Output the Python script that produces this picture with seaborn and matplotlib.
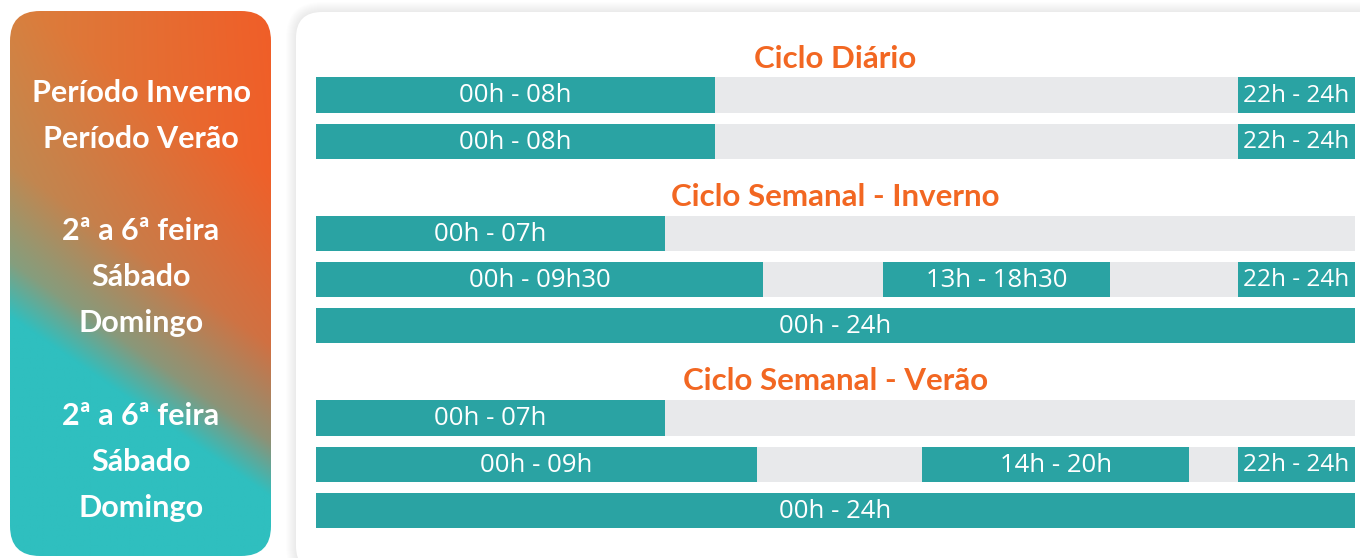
import numpy as np
import pandas as pd
import matplotlib
matplotlib.use("Agg")
import matplotlib.pyplot as plt
import seaborn as sns
from matplotlib.patches import FancyBboxPatch
from matplotlib.colors import to_rgb
from matplotlib.transforms import blended_transform_factory

# ---------------- data ----------------
section_titles = ["Ciclo Diário", "Ciclo Semanal - Inverno", "Ciclo Semanal - Verão"]
title_pos = [-0.78, 2.22, 6.2]
row_labels = ["Período Inverno", "Período Verão",
              "2ª a 6ª feira", "Sábado", "Domingo",
              "2ª a 6ª feira", "Sábado", "Domingo"]
row_pos = [0, 1, 3, 4, 5, 7, 8, 9]
row_full = [24, 24, 24, 24, 24, 24, 24, 24]

# teal segments (row index, start / end on the drawn 0-24 axis, label)
seg_row = [0, 0, 1, 1, 2, 3, 3, 3, 4, 5, 6, 6, 6, 7]
seg_start = [0, 21.3, 0, 21.3, 0, 0, 13.1, 21.3, 0, 0, 0, 14.0, 21.3, 0]
seg_end = [9.22, 24, 9.22, 24, 8.06, 10.33, 18.34, 24, 24, 8.06, 10.19, 20.17, 24, 24]
seg_text = ["00h - 08h", "22h - 24h", "00h - 08h", "22h - 24h",
            "00h - 07h", "00h - 09h30", "13h - 18h30", "22h - 24h", "00h - 24h",
            "00h - 07h", "00h - 09h", "14h - 20h", "22h - 24h", "00h - 24h"]

TEAL = "#2AA3A3"
GRAY = "#E8E9EB"
ORANGE = "#F26722"

sns.set_theme(style="white")
W, H = 1360, 558
fig = plt.figure(figsize=(W / 100, H / 100), dpi=100)
fig.patch.set_facecolor("white")

# background axes in pixel coords
bg = fig.add_axes([0, 0, 1, 1])
bg.set_xlim(0, W)
bg.set_ylim(H, 0)
bg.axis("off")

# right white card with soft shadow
for i in range(10, 0, -1):
    sh = FancyBboxPatch((296 - i, 12 - i), 1100 + 2 * i, 560 + 2 * i,
                        boxstyle=f"round,pad=0,rounding_size={26 + i}",
                        facecolor="#000000", edgecolor="none", alpha=0.006, zorder=1)
    bg.add_patch(sh)
card = FancyBboxPatch((296, 12), 1100, 560, boxstyle="round,pad=0,rounding_size=26",
                      facecolor="white", edgecolor="none", zorder=2)
bg.add_patch(card)

# left gradient panel
px0, py0, pw, ph = 10, 11, 261, 545
panel = FancyBboxPatch((px0, py0), pw, ph, boxstyle="round,pad=0,rounding_size=30",
                       facecolor="none", edgecolor="none", zorder=3)
bg.add_patch(panel)
xs = np.linspace(px0, px0 + pw, 300)
ys = np.linspace(py0, py0 + ph, 600)
XX, YY = np.meshgrid(xs, ys)
d = (180 * (XX - 10) - 261 * (YY - 262)) / 317.0
w = np.interp(d, [-45, 0, 80, 220], [0, 0.5, 0.85, 1.0])[..., None]
u = ((XX - px0) / pw)[..., None]
v = ((YY - py0) / ph)[..., None]
o_left = np.array(to_rgb("#D9803E"))
o_right = np.array(to_rgb("#F05E28"))
o_col = o_left * (1 - u) + o_right * u
o_col = o_col * (1 - 0.3 * v) + np.array(to_rgb("#E2743A")) * 0.3 * v
teal_c = np.array(to_rgb("#2FBFBF"))
img = teal_c * (1 - w) + o_col * w
im = bg.imshow(np.clip(img, 0, 1), extent=[px0, px0 + pw, py0 + ph, py0],
               aspect="auto", zorder=3, interpolation="bilinear")
im.set_clip_path(panel)

# bar axes
top_px, bot_px = 30, 550
r_top = (top_px - 95) / 46.14
r_bot = (bot_px - 95) / 46.14
ax = fig.add_axes([316 / W, 1 - bot_px / H, 1039 / W, (bot_px - top_px) / H])
ax.patch.set_alpha(0)

df = pd.DataFrame({"pos": row_pos, "full": row_full})
sns.barplot(data=df, x="full", y="pos", orient="h", native_scale=True, color=GRAY,
            saturation=1, width=0.76, linewidth=0, ax=ax, errorbar=None)

seg_y = [row_pos[r] for r in seg_row]
widths = np.subtract(seg_end, seg_start)
ax.barh(seg_y, widths, left=seg_start, height=0.76, color=TEAL, linewidth=0)

for y, s, e, txt in zip(seg_y, seg_start, seg_end, seg_text):
    fs = 17.5 if (e - s) < 3 else 18.5
    ax.text((s + e) / 2, y + 0.02, txt, ha="center", va="center", color="white",
            fontsize=fs, family="Open Sans")

for y, txt in zip(title_pos, section_titles):
    ax.text(12, y, txt, ha="center", va="center", color=ORANGE, fontsize=22.5,
            family="Lato", fontweight="bold")

ax.set_xlim(0, 24)
ax.set_ylim(r_bot, r_top)
ax.axis("off")

# left labels aligned to rows
tr = blended_transform_factory(bg.transData, ax.transData)
for y, txt in zip(row_pos, row_labels):
    bg.text(141, y - 0.05, txt, transform=tr, ha="center", va="center", color="white",
            fontsize=22, family="Lato", fontweight="bold", zorder=5)

fig.savefig("out.png", dpi=100)
